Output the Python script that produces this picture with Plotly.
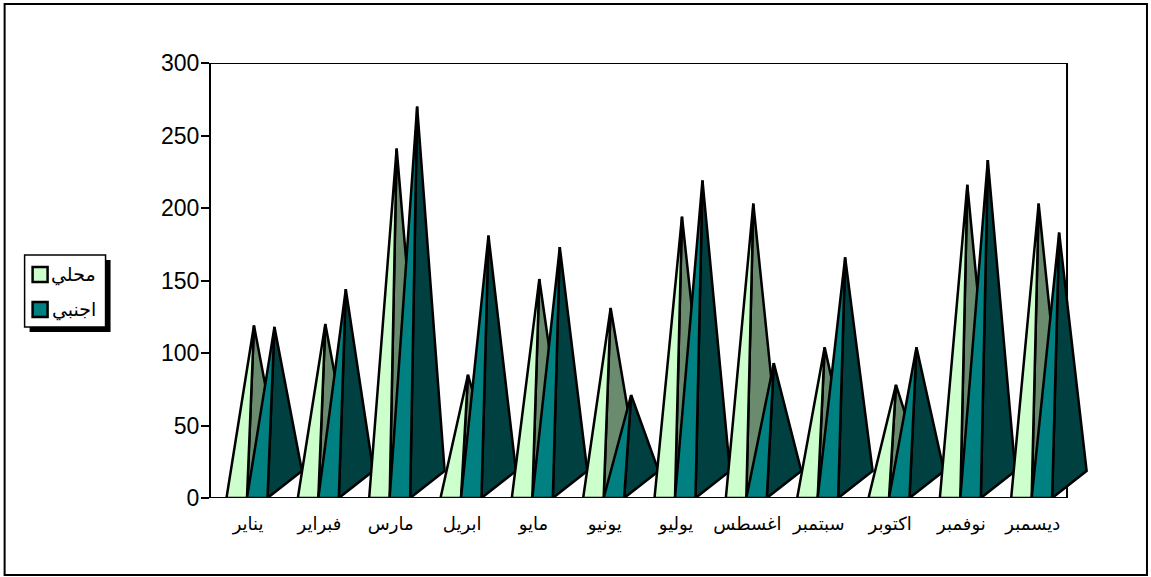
import plotly.graph_objects as go

months = ["يناير", "فبراير", "مارس", "ابريل", "مايو", "يونيو", "يوليو", "اغسطس", "سبتمبر", "اكتوبر", "نوفمبر", "ديسمبر"]
local_values = [119, 120, 241, 85, 151, 131, 194, 203, 104, 78, 216, 203]
foreign_values = [118, 144, 270, 181, 173, 71, 219, 93, 166, 104, 233, 183]
series_names = ["محلي", "اجنبي"]
front_colors = ["#CCFFCC", "#008080"]
side_colors = ["#6B8B6E", "#004040"]

W, H = 1151, 577
L, R, T, B = 210.5, 1067, 63, 498
EXT = 1100
px_x = (R - L) / 12
px_y = (B - T) / 300
gap = 15.5 / px_x
bar_w = 20.5 / px_x
depth_x = 34.5 / px_x
depth_y = 27 / px_y


def paper_x(p):
    return (p - L) / (EXT - L)


def paper_y(p):
    return (B - p) / (B - T)


fig = go.Figure()
for i in range(12):
    for s, vals in enumerate([local_values, foreign_values]):
        x0 = i + gap + s * bar_w
        x1 = x0 + bar_w
        ax = (x0 + x1 + depth_x) / 2
        v = vals[i]
        common = dict(mode="lines", fill="toself", cliponaxis=False, showlegend=False,
                      hoverinfo="skip", line=dict(color="black", width=2.5, shape="linear"))
        fig.add_trace(go.Scatter(x=[x1, x1 + depth_x, ax, x1], y=[0, depth_y, v, 0],
                                 fillcolor=side_colors[s], **common))
        fig.add_trace(go.Scatter(x=[x0, x1, ax, x0], y=[0, 0, v, 0],
                                 fillcolor=front_colors[s], **common))

frame = dict(color="black", width=2)
shapes = [
    dict(type="rect", xref="paper", yref="paper", x0=paper_x(4), x1=paper_x(1147),
         y0=paper_y(4), y1=paper_y(575), line=dict(color="black", width=2), layer="below"),
    dict(type="rect", xref="paper", yref="paper", x0=paper_x(29), x1=paper_x(110),
         y0=paper_y(260), y1=paper_y(332), line=dict(width=0), fillcolor="black", layer="below"),
    dict(type="rect", xref="paper", yref="paper", x0=paper_x(24), x1=paper_x(105),
         y0=paper_y(255), y1=paper_y(327), line=dict(color="black", width=1.5),
         fillcolor="white", layer="below"),
    dict(type="line", x0=0, x1=12, y0=300, y1=300, line=frame, layer="below"),
    dict(type="line", x0=12, x1=12, y0=0, y1=300, line=frame, layer="below"),
    dict(type="line", x0=0, x1=12, y0=0, y1=0, line=frame, layer="below"),
]
annotations = []
for s, cy in enumerate([274.5, 309.5]):
    shapes.append(dict(type="rect", xref="paper", yref="paper", x0=paper_x(32), x1=paper_x(47),
                       y0=paper_y(cy - 7.5), y1=paper_y(cy + 7.5),
                       line=dict(color="black", width=2.5), fillcolor=front_colors[s], layer="below"))
    annotations.append(dict(xref="paper", yref="paper", x=paper_x(97), y=paper_y(cy),
                            text=series_names[s], showarrow=False, xanchor="right", yanchor="middle",
                            font=dict(size=19)))

fig.update_layout(
    width=W, height=H, autosize=False, showlegend=False,
    margin=dict(l=L, r=W - EXT, t=T, b=H - B, autoexpand=False),
    paper_bgcolor="white", plot_bgcolor="white",
    font=dict(family="Liberation Sans, Arial, DejaVu Sans", color="black"),
    xaxis=dict(range=[0, (EXT - L) / px_x], tickmode="array", tickvals=[i + 0.52 for i in range(12)],
               ticktext=months, ticks="", showgrid=False, zeroline=False, showline=False,
               tickfont=dict(size=18), ticklabelstandoff=13),
    yaxis=dict(range=[0, 300], tickmode="array", tickvals=[0, 50, 100, 150, 200, 250, 300],
               ticks="outside", ticklen=8, tickwidth=2, tickcolor="black", showgrid=False,
               zeroline=False, showline=True, linecolor="black", linewidth=2,
               layer="below traces", tickfont=dict(size=23), ticklabelstandoff=-3),
    shapes=shapes,
    annotations=annotations,
)
fig.write_html("out.html", config=dict(displayModeBar=False),
               post_script="document.body.style.margin='0';document.body.style.overflow='hidden';")
